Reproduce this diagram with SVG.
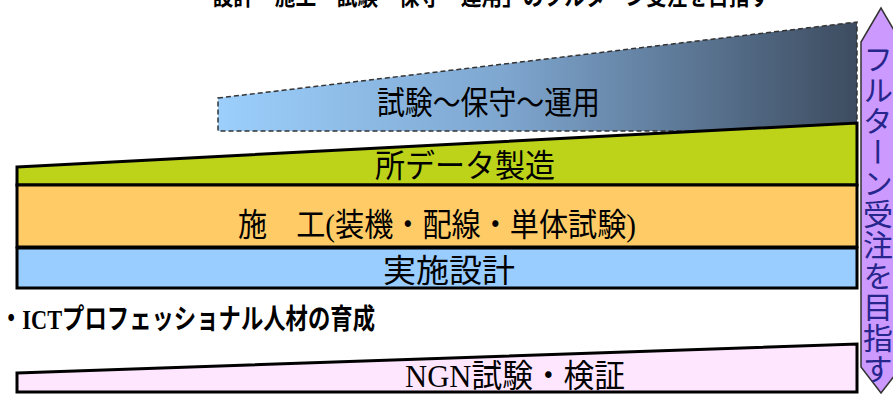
<svg xmlns="http://www.w3.org/2000/svg" width="893" height="395" viewBox="0 0 893 395">
<defs>
<linearGradient id="gBlue" x1="218" y1="0" x2="857" y2="0" gradientUnits="userSpaceOnUse">
<stop offset="0" stop-color="#9CCFFC"/>
<stop offset="0.45" stop-color="#7EA6CF"/>
<stop offset="1" stop-color="#3D4C60"/>
</linearGradient>
<style>
.band{stroke:#000;stroke-width:3;stroke-linejoin:miter}
.lbl{font-family:"Liberation Serif","Noto Sans CJK JP",serif;font-size:32px;fill:#000}
.bold{font-weight:bold}
</style>
</defs>
<rect width="893" height="395" fill="#fff"/>
<text class="lbl bold" x="192" y="5" style="font-size:24px" textLength="578" lengthAdjust="spacingAndGlyphs">・設計・施工・試験・保守・運用」のフルターン受注を目指す</text>
<g id="ops">
<polygon points="218,98 857,22 857,131 218,131" fill="url(#gBlue)" stroke="#333" stroke-width="1.5" stroke-dasharray="5,3"/>
<text class="lbl" x="377" y="114" textLength="223" lengthAdjust="spacingAndGlyphs">試験～保守～運用</text>
</g>
<g id="data">
<polygon class="band" points="17,167 857,123 857,185 17,185" fill="#BCD31A"/>
<text class="lbl" x="375" y="177" textLength="180" lengthAdjust="spacingAndGlyphs">所データ製造</text>
</g>
<g id="construct">
<rect class="band" x="17" y="185" width="840" height="62" fill="#FFCB66"/>
<text class="lbl" x="238" y="236" textLength="398" lengthAdjust="spacingAndGlyphs">施　工(装機・配線・単体試験)</text>
</g>
<g id="design">
<rect class="band" x="17" y="248" width="840" height="40" fill="#99CCFF"/>
<text class="lbl" x="383" y="282" textLength="132" lengthAdjust="spacingAndGlyphs">実施設計</text>
</g>
<g id="ict">
<text class="lbl bold" x="0" y="329" style="font-size:28px" textLength="375" lengthAdjust="spacingAndGlyphs">・ICTプロフェッショナル人材の育成</text>
</g>
<g id="ngn">
<polygon class="band" points="17,373 857,344 857,392 17,392" fill="#FFE6FF"/>
<text class="lbl" x="405" y="387" textLength="220" lengthAdjust="spacingAndGlyphs">NGN試験・検証</text>
</g>
<g id="fullturn">
<polygon points="881,8 861,42 861,367 881,393 901,367 901,42" fill="#CC99FF" stroke="#333" stroke-width="1.5"/>
<text x="878" y="44" style="writing-mode:vertical-rl;font-family:'Noto Sans CJK JP',sans-serif;font-size:30px" fill="#26268C" textLength="340" lengthAdjust="spacing">フルターン受注を目指す</text>
</g>
<g id="connectors"></g>
</svg>
